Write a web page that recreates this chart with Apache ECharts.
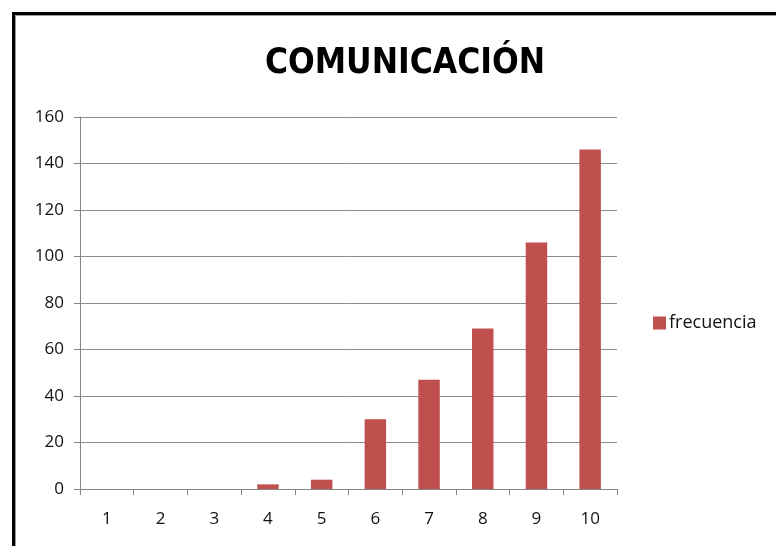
<!DOCTYPE html>
<html><head><meta charset="utf-8">
<script src="https://cdn.jsdelivr.net/npm/echarts@6/dist/echarts.min.js"></script>
<style>html,body{margin:0;padding:0;background:#fff}#c{width:776px;height:546px}</style>
</head><body><div id="c"></div>
<script>
const categories = ['1','2','3','4','5','6','7','8','9','10'];
const frecuencia = [0,0,0,2,4,30,47,69,106,146];
const seriesName = 'frecuencia';
const titleText = 'COMUNICACIÓN';

const chart = echarts.init(document.getElementById('c'));
chart.setOption({
  animation:false,
  backgroundColor:'#fff',
  graphic:[
    {type:'rect',shape:{x:13.5,y:13.5,width:900,height:700},style:{fill:'none',stroke:'#000',lineWidth:3}},
    {type:'rect',shape:{x:15.5,y:15.5,width:900,height:700},style:{fill:'none',stroke:'#9a9a9a',lineWidth:1}}
  ],
  title:{text:titleText,left:400,textAlign:'center',top:41,
    textStyle:{fontFamily:'DejaVu Sans Condensed, Liberation Sans Narrow, sans-serif',fontWeight:'bold',fontSize:35,color:'#000'}},
  legend:{data:[seriesName],left:648,top:309,itemWidth:13,itemHeight:13,itemGap:4,
    icon:'rect',textStyle:{fontFamily:'Open Sans, sans-serif',fontSize:18,color:'#111',padding:[0,0,0,-2]}},
  grid:{left:80,right:159,top:117,bottom:57,containLabel:false},
  xAxis:{type:'category',data:categories,
    axisLine:{lineStyle:{color:'#868686',width:1}},
    axisTick:{show:true,length:6,inside:false,alignWithLabel:false,lineStyle:{color:'#868686'}},
    axisLabel:{margin:22,fontFamily:'Open Sans, sans-serif',fontSize:17,color:'#111'}},
  yAxis:{type:'value',min:0,max:160,interval:20,
    axisLine:{show:true,lineStyle:{color:'#868686',width:1}},
    axisTick:{show:true,length:6,lineStyle:{color:'#868686'}},
    splitLine:{lineStyle:{color:'#8c8c8c',width:1}},
    axisLabel:{margin:16,fontFamily:'Open Sans, sans-serif',fontSize:17,color:'#111'}},
  series:[{name:seriesName,type:'bar',data:frecuencia,barWidth:'40%',
    itemStyle:{color:'#C0504D'}}]
});
</script></body></html>
